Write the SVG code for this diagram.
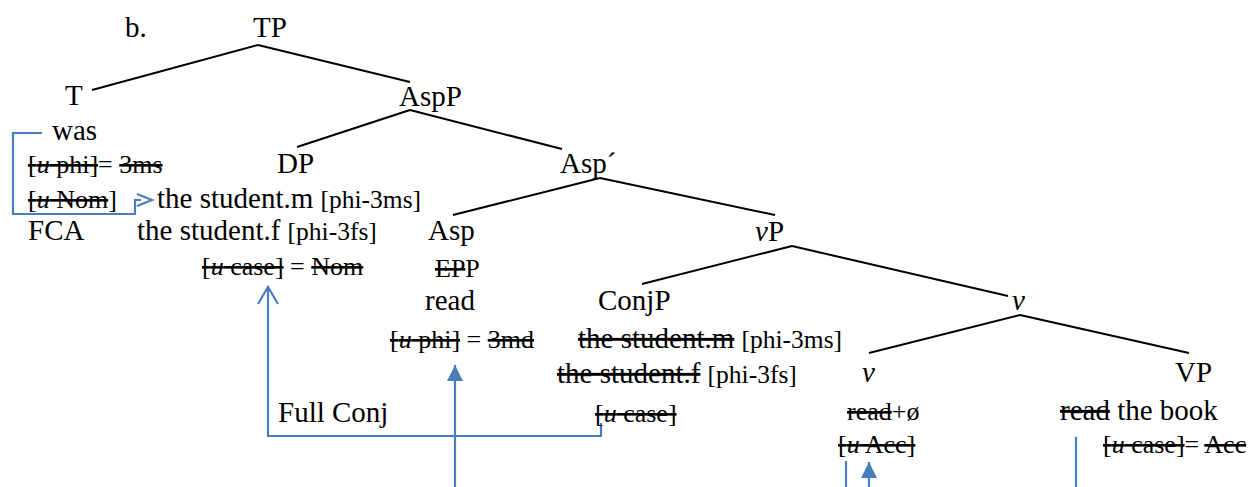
<svg xmlns="http://www.w3.org/2000/svg" width="1252" height="487" viewBox="0 0 1252 487">
<style>
text{font-family:"Liberation Serif","Times New Roman",serif;font-size:29px;fill:#000}
.s{font-size:26px}
.b{font-size:25.5px}
.i{font-style:italic}
.x{text-decoration:line-through;text-decoration-thickness:2px}
.tree line{stroke:#000;stroke-width:2}
.blue{fill:none;stroke:#4A7EBB;stroke-width:2.2}
</style>
<defs>
<marker id="tri" viewBox="0 0 10 10" refX="10" refY="5" markerWidth="16" markerHeight="16" markerUnits="userSpaceOnUse" orient="auto">
<path d="M0,0 L10,5 L0,10 z" fill="#4A7EBB"/>
</marker>
</defs>
<g id="connectors">
<g class="tree">
<line x1="258" y1="45" x2="92" y2="90"/>
<line x1="258" y1="45" x2="410" y2="82"/>
<line x1="410" y1="110" x2="297" y2="147"/>
<line x1="410" y1="110" x2="562" y2="149"/>
<line x1="600" y1="178" x2="453" y2="215"/>
<line x1="600" y1="178" x2="775" y2="215"/>
<line x1="792" y1="246" x2="642" y2="284"/>
<line x1="792" y1="246" x2="1008" y2="296"/>
<line x1="1020" y1="315" x2="869" y2="353"/>
<line x1="1020" y1="315" x2="1189" y2="353"/>
</g>
<path class="blue" d="M42,133 H13 V214 H135 V200 H141"/>
<path class="blue" d="M137,194 L152,200 L137,206"/>
<path class="blue" d="M601,423 V436 H268 V288"/>
<path class="blue" d="M258,304 L268,287 L278,304"/>
<path class="blue" d="M455,487 V365" marker-end="url(#tri)"/>
<path class="blue" d="M846,461 V487"/>
<path class="blue" d="M869,487 V462" marker-end="url(#tri)"/>
<path class="blue" d="M1076,437 V487"/>
</g>
<g id="label-b"><text x="125" y="37">b.</text></g>
<g id="TP"><text x="253" y="37">TP</text></g>
<g id="T">
<text x="65" y="105">T</text>
<text x="52" y="140">was</text>
<text class="s" x="28" y="173"><tspan class="x">[<tspan class="i">u</tspan> phi]</tspan>= <tspan class="x">3ms</tspan></text>
<text class="s" x="28" y="208"><tspan class="x">[<tspan class="i">u</tspan> Nom</tspan>]</text>
<text x="28" y="240">FCA</text>
</g>
<g id="AspP"><text x="399" y="106">AspP</text></g>
<g id="DP">
<text x="277" y="173">DP</text>
<text x="157" y="208">the student.m <tspan class="b">[phi-3ms]</tspan></text>
<text x="137" y="240">the student.f <tspan class="b">[phi-3fs]</tspan></text>
<text class="s" x="202" y="275"><tspan class="x">[<tspan class="i">u</tspan> case]</tspan> = <tspan class="x">Nom</tspan></text>
</g>
<g id="AspBar"><text x="560" y="173">Asp´</text></g>
<g id="Asp">
<text x="428" y="240">Asp</text>
<text class="s" x="435" y="277"><tspan class="x">EP</tspan>P</text>
<text x="425" y="310">read</text>
<text class="s" x="390" y="348"><tspan class="x">[<tspan class="i">u</tspan> phi]</tspan> = <tspan class="x">3md</tspan></text>
</g>
<g id="vP"><text x="755" y="241"><tspan class="i">v</tspan>P</text></g>
<g id="ConjP">
<text x="598" y="310">ConjP</text>
<text x="578" y="348"><tspan class="x">the student.m</tspan> <tspan class="b">[phi-3ms]</tspan></text>
<text x="557" y="383"><tspan class="x">the student.f</tspan> <tspan class="b">[phi-3fs]</tspan></text>
<text class="s" x="595" y="422"><tspan class="x">[<tspan class="i">u</tspan> case]</tspan></text>
</g>
<g id="FullConj"><text x="278" y="422">Full Conj</text></g>
<g id="vbar"><text class="i" x="1012" y="310">v</text></g>
<g id="v">
<text class="i" x="862" y="382">v</text>
<text class="s" x="847" y="420"><tspan class="x">read</tspan>+ø</text>
<text class="s" x="838" y="453"><tspan class="x">[<tspan class="i">u</tspan> Acc]</tspan></text>
</g>
<g id="VP">
<text x="1175" y="382">VP</text>
<text x="1060" y="420"><tspan class="x">read</tspan> the book</text>
<text class="s" x="1103" y="453"><tspan class="x">[<tspan class="i">u</tspan> case]</tspan>= <tspan class="x">Acc</tspan></text>
</g>
</svg>
